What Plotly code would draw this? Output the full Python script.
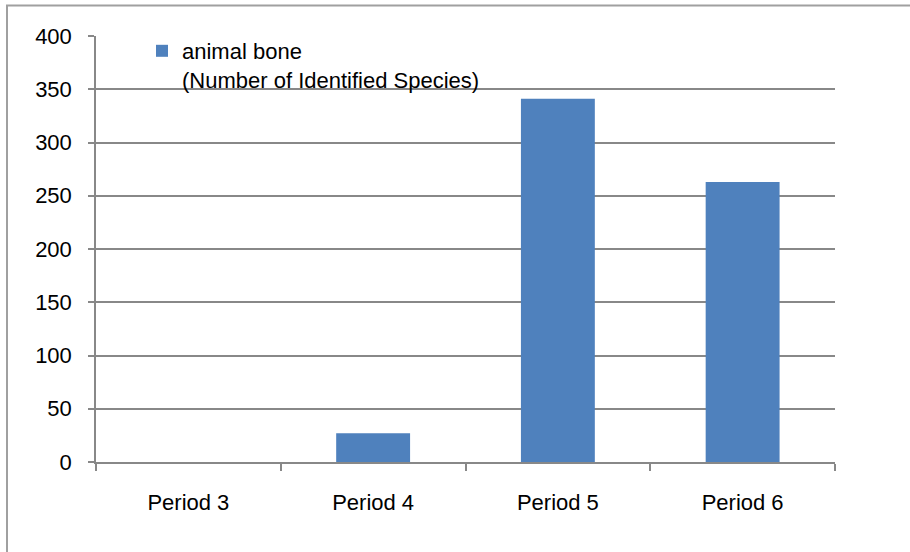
import plotly.graph_objects as go

# Animal bone counts per period
periods = ["Period 3", "Period 4", "Period 5", "Period 6"]
bone_counts = [0, 27, 341, 263]
y_ticks = [0, 50, 100, 150, 200, 250, 300, 350, 400]

W, H = 910, 552
M_L, M_R, M_T, M_B = 96, 75, 36, 90
plot_w = W - M_L - M_R
plot_h = H - M_T - M_B

GRID = "#888888"
FONT = dict(family="Liberation Sans, Arial, sans-serif", size=22, color="#000000")

fig = go.Figure()
fig.add_trace(go.Bar(
    x=periods,
    y=bone_counts,
    name="animal bone<br>(Number of Identified Species)",
    marker=dict(color="#4f81bd", line=dict(width=0)),
    width=0.4,
))

# outer chart frame (extends past the right and bottom edges)
fig.add_shape(
    type="rect", xref="paper", yref="paper",
    x0=(7 - M_L) / plot_w, x1=(915 - M_L) / plot_w,
    y0=-(H + 5 - (M_T + plot_h)) / plot_h, y1=(M_T + plot_h - 5.5) / plot_h,
    line=dict(color="#a0a0a0", width=2), fillcolor="rgba(0,0,0,0)", layer="below",
)

fig.update_layout(
    width=W, height=H,
    margin=dict(l=M_L, r=M_R, t=M_T, b=M_B),
    paper_bgcolor="#ffffff", plot_bgcolor="#ffffff",
    font=FONT,
    showlegend=True,
    legend=dict(
        x=(142 - M_L) / plot_w, y=1.0 + 6 / plot_h, xanchor="left", yanchor="top",
        bgcolor="rgba(0,0,0,0)", font=FONT, valign="top",
        itemwidth=30,
    ),
    xaxis=dict(
        type="category",
        showline=True, linecolor=GRID, linewidth=1.5,
        ticks="outside", tickson="boundaries", ticklen=7, tickcolor=GRID, tickwidth=1.5,
        showgrid=False, zeroline=False,
        ticklabelstandoff=20,
        tickfont=FONT,
    ),
    yaxis=dict(
        range=[0, 400], tickvals=y_ticks, ticktext=[str(v) for v in y_ticks],
        showline=True, linecolor=GRID, linewidth=1.5,
        ticks="outside", ticklen=6, tickcolor=GRID, tickwidth=1.5,
        showgrid=True, gridcolor=GRID, gridwidth=1.6,
        zeroline=False,
        ticklabelstandoff=12,
        tickfont=FONT,
    ),
)

fig.write_html("out.html")
